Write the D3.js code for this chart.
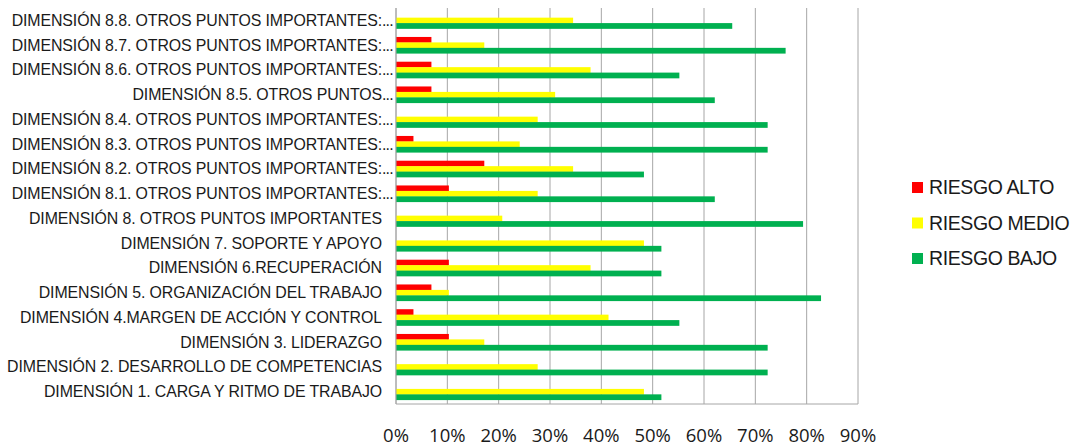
<!DOCTYPE html>
<html>
<head>
<meta charset="utf-8">
<script src="https://cdn.jsdelivr.net/npm/d3@7"></script>
<style>
  body { margin: 0; background: #fff; }
  svg { display: block; }
</style>
</head>
<body>
<div id="chart"></div>
<script>
// categories, top to bottom as drawn
const categories = [
    "DIMENSIÓN 8.8. OTROS PUNTOS IMPORTANTES:...",
    "DIMENSIÓN 8.7. OTROS PUNTOS IMPORTANTES:...",
    "DIMENSIÓN 8.6. OTROS PUNTOS IMPORTANTES:...",
    "DIMENSIÓN 8.5. OTROS PUNTOS...",
    "DIMENSIÓN 8.4. OTROS PUNTOS IMPORTANTES:...",
    "DIMENSIÓN 8.3. OTROS PUNTOS IMPORTANTES:...",
    "DIMENSIÓN 8.2. OTROS PUNTOS IMPORTANTES:...",
    "DIMENSIÓN 8.1. OTROS PUNTOS IMPORTANTES:...",
    "DIMENSIÓN 8. OTROS PUNTOS IMPORTANTES",
    "DIMENSIÓN 7. SOPORTE Y APOYO",
    "DIMENSIÓN 6.RECUPERACIÓN",
    "DIMENSIÓN 5. ORGANIZACIÓN DEL TRABAJO",
    "DIMENSIÓN 4.MARGEN DE ACCIÓN Y CONTROL",
    "DIMENSIÓN 3. LIDERAZGO",
    "DIMENSIÓN 2. DESARROLLO DE COMPETENCIAS",
    "DIMENSIÓN 1. CARGA Y RITMO DE TRABAJO"
];

// values in percent, same order as categories
const riesgoAlto  = [0, 6.9, 6.9, 6.9, 0, 3.4, 17.2, 10.3, 0, 0, 10.3, 6.9, 3.4, 10.3, 0, 0];
const riesgoMedio = [34.5, 17.2, 37.9, 31.0, 27.6, 24.1, 34.5, 27.6, 20.7, 48.3, 37.9, 10.3, 41.4, 17.2, 27.6, 48.3];
const riesgoBajo  = [65.5, 75.9, 55.2, 62.1, 72.4, 72.4, 48.3, 62.1, 79.3, 51.7, 51.7, 82.8, 55.2, 72.4, 72.4, 51.7];

const seriesNames = ["RIESGO ALTO", "RIESGO MEDIO", "RIESGO BAJO"];
const seriesColors = ["#FF0000", "#FFFF00", "#00B050"];
const xTicks = [0, 10, 20, 30, 40, 50, 60, 70, 80, 90];

const seriesValues = [riesgoAlto, riesgoMedio, riesgoBajo];
const rows = categories.map((c, i) => ({
    name: c,
    values: seriesNames.map((s, j) => ({ series: s, value: seriesValues[j][i] }))
}));

const width = 1083, height = 448;
const margin = { top: 8, right: 225, bottom: 44, left: 396 };

const svg = d3.select("#chart").append("svg")
    .attr("width", width)
    .attr("height", height);

const x = d3.scaleLinear()
    .domain([0, 90])
    .range([margin.left, width - margin.right]);

const y = d3.scaleBand()
    .domain(categories)
    .range([margin.top, height - margin.bottom])
    .paddingInner(0.34)
    .paddingOuter(0.17);

const ySub = d3.scaleBand()
    .domain(seriesNames)
    .range([0, y.bandwidth()]);

// vertical gridlines
svg.append("g")
    .selectAll("line")
    .data(xTicks)
    .enter()
    .append("line")
    .attr("x1", d => x(d))
    .attr("x2", d => x(d))
    .attr("y1", margin.top)
    .attr("y2", height - margin.bottom)
    .attr("stroke", "#A6A6A6")
    .attr("stroke-width", 1);

// bottom axis line
svg.append("line")
    .attr("x1", x(0))
    .attr("x2", x(90))
    .attr("y1", height - margin.bottom)
    .attr("y2", height - margin.bottom)
    .attr("stroke", "#A6A6A6");

// bars
const groups = svg.append("g")
    .selectAll("g")
    .data(rows)
    .enter()
    .append("g")
    .attr("transform", d => `translate(0,${y(d.name)})`);

groups.selectAll("rect")
    .data(d => d.values.filter(v => v.value > 0))
    .enter()
    .append("rect")
    .attr("x", x(0))
    .attr("y", d => ySub(d.series))
    .attr("width", d => x(d.value) - x(0))
    .attr("height", ySub.bandwidth() + 0.3)
    .attr("fill", d => seriesColors[seriesNames.indexOf(d.series)]);

// left axis line
svg.append("line")
    .attr("x1", x(0))
    .attr("x2", x(0))
    .attr("y1", margin.top)
    .attr("y2", height - margin.bottom)
    .attr("stroke", "#A6A6A6");

// category labels: truncated ones have the dots hanging past the anchor
const labelX = margin.left - 14;
const labels = svg.append("g")
    .selectAll("g")
    .data(categories)
    .enter()
    .append("g")
    .attr("transform", d => `translate(0,${y(d) + y.bandwidth() / 2})`)
    .attr("font-family", "Liberation Sans, Arial, sans-serif")
    .attr("font-size", "15.9px")
    .attr("fill", "#1a1a1a");

labels.append("text")
    .attr("x", labelX)
    .attr("dy", "0.35em")
    .attr("text-anchor", "end")
    .attr("letter-spacing", "-0.1px")
    .text(d => d.replace(/\.\.\.$/, ""));

labels.filter(d => d.endsWith("..."))
    .append("text")
    .attr("x", labelX)
    .attr("dy", "0.35em")
    .attr("letter-spacing", "-0.8px")
    .text("...");

// x tick labels
svg.append("g")
    .selectAll("text")
    .data(xTicks)
    .enter()
    .append("text")
    .attr("x", d => x(d))
    .attr("y", 442)
    .attr("text-anchor", "middle")
    .attr("font-family", "Open Sans, sans-serif")
    .attr("font-size", "18.5px")
    .attr("fill", "#1a1a1a")
    .text(d => d + "%");

// legend
const legend = svg.append("g")
    .selectAll("g")
    .data(seriesNames)
    .enter()
    .append("g")
    .attr("transform", (d, i) => `translate(912,${182 + i * 35.5})`);

legend.append("rect")
    .attr("width", 11)
    .attr("height", 11)
    .attr("fill", (d, i) => seriesColors[i]);

legend.append("text")
    .attr("x", 17)
    .attr("y", 12)
    .attr("font-family", "Liberation Sans, Arial, sans-serif")
    .attr("font-size", "19.5px")
    .attr("letter-spacing", "-0.4px")
    .attr("fill", "#1a1a1a")
    .text(d => d);
</script>
</body>
</html>
